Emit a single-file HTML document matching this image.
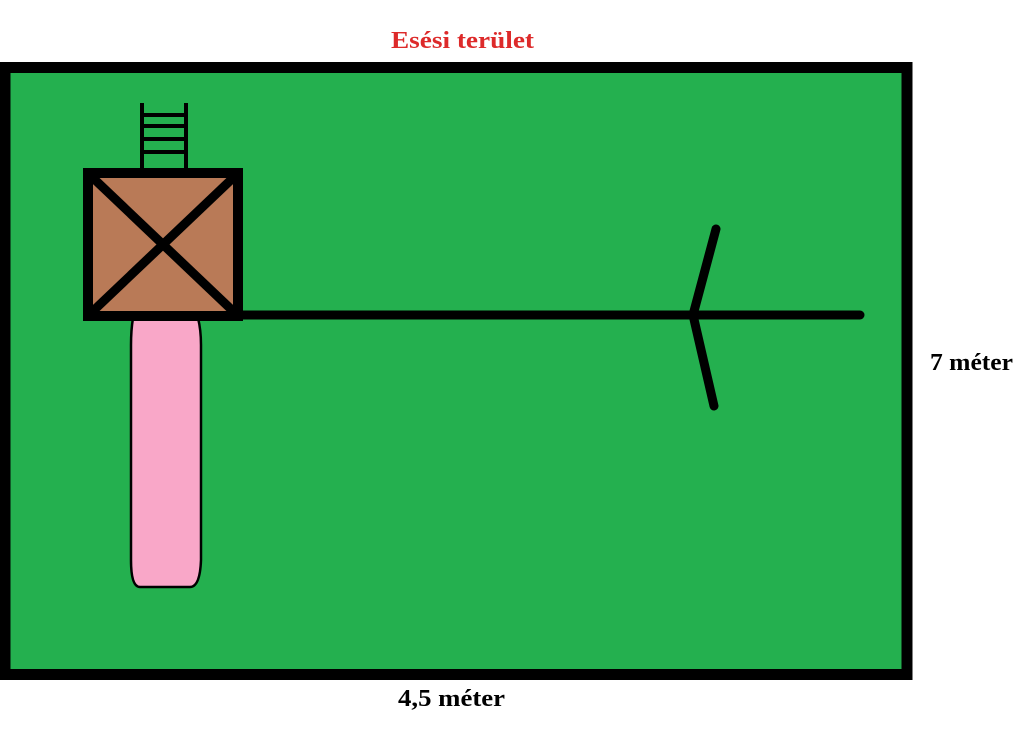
<!DOCTYPE html>
<html><head><meta charset="utf-8"><style>
html,body{margin:0;padding:0;background:#fff;width:1024px;height:733px;overflow:hidden}
</style></head><body>
<svg width="1024" height="733" viewBox="0 0 1024 733" xmlns="http://www.w3.org/2000/svg">
<rect x="5" y="67.5" width="902" height="607" fill="#24b04f" stroke="#000" stroke-width="11"/>
<g stroke="#000" stroke-width="4">
<line x1="142" y1="103" x2="142" y2="170"/>
<line x1="186" y1="103" x2="186" y2="170"/>
<line x1="142" y1="115" x2="186" y2="115"/>
<line x1="142" y1="126" x2="186" y2="126"/>
<line x1="142" y1="139" x2="186" y2="139"/>
<line x1="142" y1="152" x2="186" y2="152"/>
</g>
<path d="M133 318 L198 318 Q201 330 201 345 L201 560 Q200 587 190 587 L140 587 Q131 587 131 560 L131 345 Q131 330 133 318 Z" fill="#f9a7c8" stroke="#000" stroke-width="2.5"/>
<rect x="88" y="173" width="150" height="143" fill="#b97a57" stroke="#000" stroke-width="10"/>
<g stroke="#000" stroke-width="9">
<line x1="92" y1="177" x2="234" y2="312"/>
<line x1="234" y1="177" x2="92" y2="312"/>
</g>
<g stroke="#000" stroke-width="9" stroke-linecap="round" fill="none">
<line x1="243" y1="315" x2="860" y2="315"/>
<polyline points="716,229 693,315 714,406"/>
</g>
<g font-family="Liberation Serif, serif" font-weight="bold" font-size="24">
<text x="391" y="48" fill="#dd2a2a" textLength="143" lengthAdjust="spacingAndGlyphs">Esési terület</text>
<text x="930" y="370" fill="#000" textLength="83" lengthAdjust="spacingAndGlyphs">7 méter</text>
<text x="398" y="706" fill="#000" textLength="107" lengthAdjust="spacingAndGlyphs">4,5 méter</text>
</g>
</svg>
</body></html>
